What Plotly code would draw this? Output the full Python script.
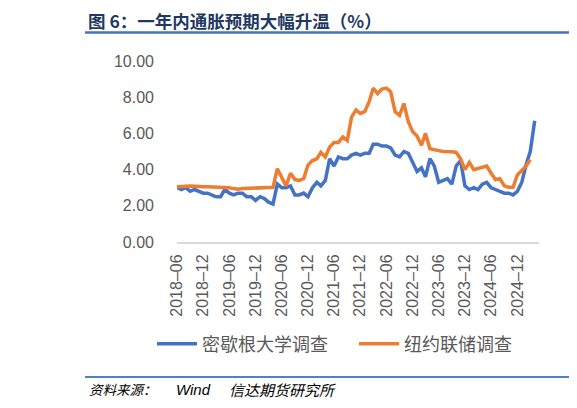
import pandas as pd
import plotly.graph_objects as go

# ---- data ----
months_blue = pd.period_range("2018-06", "2025-04", freq="M").to_timestamp()
months_orange = pd.period_range("2018-06", "2025-03", freq="M").to_timestamp()

michigan = [
    3.0, 2.9, 3.0, 2.8, 2.9, 2.8, 2.7,
    2.7, 2.6, 2.5, 2.5, 2.9, 2.7, 2.6, 2.7, 2.7, 2.5, 2.5, 2.3,
    2.5, 2.4, 2.2, 2.1, 3.2, 3.0, 3.0, 3.1, 2.6, 2.6, 2.7, 2.5,
    3.0, 3.3, 3.1, 3.4, 4.6, 4.2, 4.7, 4.6, 4.6, 4.8, 4.9, 4.8,
    4.9, 4.9, 5.4, 5.4, 5.3, 5.3, 5.2, 4.8, 4.7, 5.0, 4.9, 4.4,
    3.9, 4.1, 3.6, 4.6, 4.2, 3.3, 3.4, 3.5, 3.2, 4.2, 4.5, 3.1,
    2.9, 3.0, 2.9, 3.2, 3.3, 3.0, 2.9, 2.8, 2.7, 2.7, 2.6, 2.8,
    3.3, 4.3, 5.0, 6.7,
]
nyfed = [
    3.05, 3.08, 3.1, 3.1, 3.08, 3.05, 3.05,
    3.05, 3.04, 3.03, 3.02, 3.02, 3.0, 2.95, 2.92, 2.95, 2.96, 2.97, 2.97,
    2.98, 2.99, 3.0, 3.02, 4.05, 3.6, 3.1, 3.8, 3.45, 3.4, 3.5, 4.25,
    4.5, 4.6, 4.95, 4.7, 5.25, 5.5, 5.5, 5.8, 5.6, 6.9, 7.3, 7.1,
    7.2, 7.75, 8.5, 8.2, 8.45, 8.5, 8.3, 7.2, 7.0, 7.65, 6.65, 6.1,
    5.85, 5.35, 6.0, 5.15, 5.08, 5.05, 5.0, 5.0, 4.98, 4.95, 4.6, 4.0,
    4.4, 4.0, 4.05, 4.15, 4.2, 3.8, 3.45, 3.5, 3.1, 3.02, 3.02, 3.7,
    3.95, 4.2, 4.55,
]
series_names = ["密歇根大学调查", "纽约联储调查"]
x_tick_labels = ["2018–06", "2018–12", "2019–06", "2019–12", "2020–06", "2020–12",
                 "2021–06", "2021–12", "2022–06", "2022–12", "2023–06", "2023–12",
                 "2024–06", "2024–12"]
x_tick_vals = pd.period_range("2018-06", "2024-12", freq="6M").to_timestamp()
y_tick_vals = [0, 2, 4, 6, 8, 10]
y_tick_labels = ["0.00", "2.00", "4.00", "6.00", "8.00", "10.00"]
title_text = "图 6：一年内通胀预期大幅升温（%）"

# ---- geometry helpers (page has an 8px body margin) ----
OFF = 8
W, H = 577 - OFF, 408 - OFF
L, R, T, B = 177 - OFF, 38, 61 - OFF, 166
PW, PH = W - L - R, H - T - B


def px(xp):
    return (xp - OFF - L) / PW


def py(yp):
    return (H - B - (yp - OFF)) / PH


fig = go.Figure()
fig.add_trace(go.Scatter(x=months_blue, y=michigan, mode="lines", name=series_names[0],
                         line=dict(color="#4472C4", width=3.5)))
fig.add_trace(go.Scatter(x=months_orange, y=nyfed, mode="lines", name=series_names[1],
                         line=dict(color="#ED7D31", width=3.5)))

tick_font = dict(family="Liberation Sans, Arial, sans-serif", size=16, color="#595959")
fig.update_layout(
    width=W, height=H, autosize=False,
    margin=dict(l=L, r=R, t=T, b=B, pad=0),
    plot_bgcolor="white", paper_bgcolor="white",
    showlegend=True,
    legend=dict(orientation="h", x=px(152), xanchor="left", y=py(344), yanchor="middle",
                font=dict(family="Noto Sans CJK SC", size=18, color="#595959"),
                entrywidth=147, entrywidthmode="pixels", itemwidth=40,
                bgcolor="rgba(0,0,0,0)"),
    xaxis=dict(type="date", range=["2018-06-01", "2025-05-01"],
               tickmode="array", tickvals=x_tick_vals, ticktext=x_tick_labels,
               tickangle=-90, tickfont=tick_font, showgrid=False, zeroline=False,
               showline=True, linecolor="#D9D9D9", linewidth=2, ticks="",
               ticklabelstandoff=4),
    yaxis=dict(range=[0, 10], tickmode="array", tickvals=y_tick_vals, ticktext=y_tick_labels,
               tickfont=tick_font, showgrid=False, zeroline=False, showline=False,
               ticks="", ticklabelstandoff=22),
)

fig.add_annotation(text="<b>" + title_text + "</b>", xref="paper", yref="paper",
                   x=px(86), y=py(20), xanchor="left", yanchor="middle", showarrow=False,
                   font=dict(family="Noto Sans CJK SC", size=17.5, color="#1F3864"))
fig.add_annotation(text="<i>资料来源：</i>", xref="paper", yref="paper",
                   x=px(87), y=py(389), xanchor="left", yanchor="middle", showarrow=False,
                   font=dict(family="Noto Sans CJK SC", size=13.5, color="#000000"))
fig.add_annotation(text="<i>Wind</i>", xref="paper", yref="paper",
                   x=px(174), y=py(389), xanchor="left", yanchor="middle", showarrow=False,
                   font=dict(family="Liberation Sans, Arial", size=15, color="#000000"))
fig.add_annotation(text="<i>信达期货研究所</i>", xref="paper", yref="paper",
                   x=px(227), y=py(389), xanchor="left", yanchor="middle", showarrow=False,
                   font=dict(family="Noto Sans CJK SC", size=15, color="#000000"))

fig.add_shape(type="line", xref="paper", yref="paper", x0=px(85), x1=px(577),
              y0=py(32.5), y1=py(32.5), line=dict(color="#4472C4", width=2.5))
fig.add_shape(type="line", xref="paper", yref="paper", x0=px(85), x1=px(577),
              y0=py(377), y1=py(377), line=dict(color="#4F81C7", width=2))

fig.write_html("out.html")
